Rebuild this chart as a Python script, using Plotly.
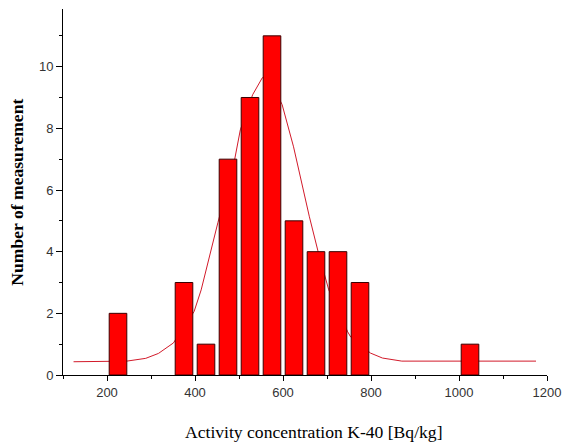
import plotly.graph_objects as go

# Histogram data (bin centres in Bq/kg, counts)
bin_centers = [225, 375, 425, 475, 525, 575, 625, 675, 725, 775, 1025]
counts = [2, 3, 1, 7, 9, 11, 5, 4, 4, 3, 1]
bar_width = 40

# Fitted curve, points
fit_x = [124, 245, 288, 317, 351, 398, 414, 452, 490, 503, 531, 553, 565,
         598, 624, 660, 680, 698, 704, 747, 754, 799, 826, 870, 1175]
fit_y = [0.43, 0.45, 0.54, 0.70, 1.04, 2.06, 2.76, 4.94, 6.98, 7.95, 9.09,
         9.64, 9.72, 8.77, 7.40, 5.13, 3.99, 3.08, 2.76, 1.40, 1.23, 0.71,
         0.55, 0.45, 0.45]

x_ticks = [200, 400, 600, 800, 1000, 1200]
y_ticks = [0, 2, 4, 6, 8, 10]

x_range = [100, 1200]
y_range = [0, 11.87]

fig = go.Figure()

# curve on the main axes (drawn below)
fig.add_trace(go.Scatter(
    x=fit_x, y=fit_y, mode="lines",
    line=dict(color="#d21a2a", width=1),
    xaxis="x", yaxis="y", showlegend=False, hoverinfo="skip"))

# bars on overlay axes (drawn above the curve)
fig.add_trace(go.Bar(
    x=bin_centers, y=counts, width=bar_width,
    marker=dict(color="#ff0000", line=dict(color="#3a0000", width=1)),
    xaxis="x2", yaxis="y2", showlegend=False))

tick_font = dict(family="Liberation Sans, Arial, sans-serif", size=13, color="#333333")
title_font = dict(family="Liberation Serif, Times New Roman, serif", size=17.6, color="#000000")

fig.update_layout(
    width=570, height=444,
    margin=dict(l=63, r=16, t=9, b=69),
    paper_bgcolor="white", plot_bgcolor="white",
    showlegend=False,
    xaxis=dict(
        range=x_range, tickvals=x_ticks, ticktext=[str(v) for v in x_ticks],
        showline=True, linecolor="#000000", linewidth=1,
        ticks="outside", ticklen=5, tickcolor="#000000", tickwidth=1,
        minor=dict(dtick=100, tick0=0, ticks="outside", ticklen=3, tickcolor="#000000"),
        showgrid=False, zeroline=False, tickfont=tick_font,
    ),
    yaxis=dict(
        range=y_range, tickvals=y_ticks, ticktext=[str(v) for v in y_ticks],
        showline=True, linecolor="#000000", linewidth=1,
        ticks="outside", ticklen=6, tickcolor="#000000", tickwidth=1,
        minor=dict(dtick=1, tick0=0, ticks="outside", ticklen=3, tickcolor="#000000"),
        showgrid=False, zeroline=False, tickfont=tick_font,
    ),
    xaxis2=dict(range=x_range, overlaying="x", visible=False),
    yaxis2=dict(range=y_range, overlaying="y", visible=False),
    annotations=[
        dict(text="Activity concentration K-40 [Bq/kg]", xref="paper", yref="paper",
             x=(318 - 63) / (554 - 63), y=-(432 - 375) / (375 - 9),
             xanchor="center", yanchor="middle", showarrow=False, font=title_font),
        dict(text="<b>Number of measurement</b>", xref="paper", yref="paper",
             x=-(63 - 16) / (554 - 63), y=(375 - 192) / (375 - 9), textangle=-90,
             xanchor="center", yanchor="middle", showarrow=False, font=title_font),
    ],
)

fig.write_html(
    "out.html",
    config={"displayModeBar": False},
    post_script="document.body.style.margin='0';document.body.style.overflow='hidden';",
)
